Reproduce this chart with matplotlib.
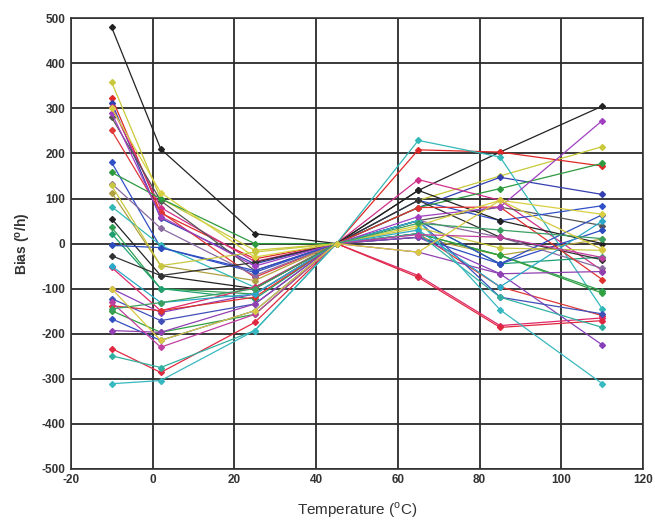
import matplotlib.pyplot as plt

plt.rcParams['axes.unicode_minus'] = False

# temperature points (deg C)
temps = [-10, 2, 25, 45, 65, 85, 110]

# bias curves (deg/h), one list per sensor
s01 = [480, 210, 22, 0, 118, 203, 305]
s02 = [358, 100, -15, 0, 96, 150, 215]
s03 = [324, 68, -34, 0, 208, 203, 172]
s04 = [313, 56, -45, 0, 80, 147, 109]
s05 = [304, 80, -40, 0, 142, 96, -60]
s06 = [280, 95, -60, 0, 51, 81, 40]
s07 = [251, 70, -75, 0, 22, -96, -160]
s08 = [180, -9, -64, 0, 96, 51, 84]
s09 = [158, 100, 0, 0, 80, 122, 178]
s10 = [133, 34, -71, 0, 51, 14, -55]
s11 = [113, -49, -82, 0, 14, -26, 10]
s12 = [82, -4, -97, 0, 229, 192, -145]
s13 = [55, -71, -100, 0, 118, 51, 0]
s14 = [36, -100, -112, 0, 22, -26, -105]
s15 = [22, -100, -123, 0, 51, -45, -30]
s16 = [-4, -9, -60, 0, 14, -45, 30]
s17 = [-27, -71, -42, 0, 96, 14, -36]
s18 = [-53, -149, -97, 0, -71, -182, -165]
s19 = [-100, -153, -112, 0, 14, -67, -225]
s20 = [-122, -171, -134, 0, 51, -119, -156]
s21 = [-138, -149, -119, 0, 80, 81, -80]
s22 = [-149, -197, -157, 0, 22, -26, -110]
s23 = [-167, -215, -149, 0, 51, -45, 64]
s24 = [-193, -197, -134, 0, -19, -67, -62]
s25 = [-233, -286, -175, 0, -75, -186, -171]
s26 = [-249, -275, -193, 0, 22, -119, -186]
s27 = [-311, -304, -193, 0, 51, -147, -311]
s28 = [290, 60, -50, 0, 60, 81, 273]
s29 = [300, 113, -30, 0, 40, 96, 65]
s30 = [129, -49, -19, 0, 35, -10, -15]
s31 = [-50, -131, -112, 0, 30, -96, 50]
s32 = [-130, -230, -157, 0, 20, 14, -31]
s33 = [-145, -131, -100, 0, 45, 30, 11]
s34 = [-100, -215, -149, 0, -19, 96, -13]

series = [s01, s02, s03, s04, s05, s06, s07, s08, s09, s10, s11, s12,
          s13, s14, s15, s16, s17, s18, s19, s20, s21, s22, s23, s24,
          s25, s26, s27, s28, s29, s30, s31, s32, s33, s34]

colors = ['#222222', '#c8c83a', '#e02828', '#3340b0', '#d0308a', '#555555',
          '#e03838', '#3050c8', '#2e9a40', '#8a6aa0', '#b0a040', '#33b8b8',
          '#222222', '#30a050', '#20a070', '#2d4cc0', '#333333', '#e0286a',
          '#8840b8', '#4050b8', '#e03030', '#30a040', '#3050c0', '#9040b0',
          '#e02840', '#30b0a0', '#38b8c0', '#a040c0', '#d8d040', '#c8c840',
          '#2aa8c8', '#c040a0', '#3aa060', '#d8c840']

fig = plt.figure(figsize=(6.55, 5.21), dpi=100)
ax = fig.add_axes([0.108, 0.100, 0.874, 0.865])

for s, c in zip(series, colors):
    ax.plot(temps, s, color=c, lw=0.9, marker='D', markersize=3)

ax.set_xlim(-20, 120)
ax.set_ylim(-500, 500)
ax.set_xticks(range(-20, 121, 20))
ax.set_yticks(range(-500, 501, 100))
ax.grid(True, color='#2a2a2a', lw=1.3)
ax.set_axisbelow(True)
for sp in ax.spines.values():
    sp.set_color('#333333')
    sp.set_linewidth(1.2)
ax.tick_params(length=0, pad=4)
for lab in ax.get_xticklabels() + ax.get_yticklabels():
    lab.set_fontfamily('Liberation Sans')
    lab.set_fontweight('bold')
    lab.set_fontsize(8.5)
    lab.set_color('#333333')

ax.set_xlabel('Temperature ($^{\\mathregular{o}}$C)', fontfamily='Liberation Sans',
              fontsize=11, color='#333333', labelpad=10)
ax.set_ylabel('Bias ($^{\\mathregular{o}}$/h)', fontfamily='Liberation Sans',
              fontsize=10, fontweight='bold', color='#333333', labelpad=6)

fig.savefig('out.png', dpi=100)
